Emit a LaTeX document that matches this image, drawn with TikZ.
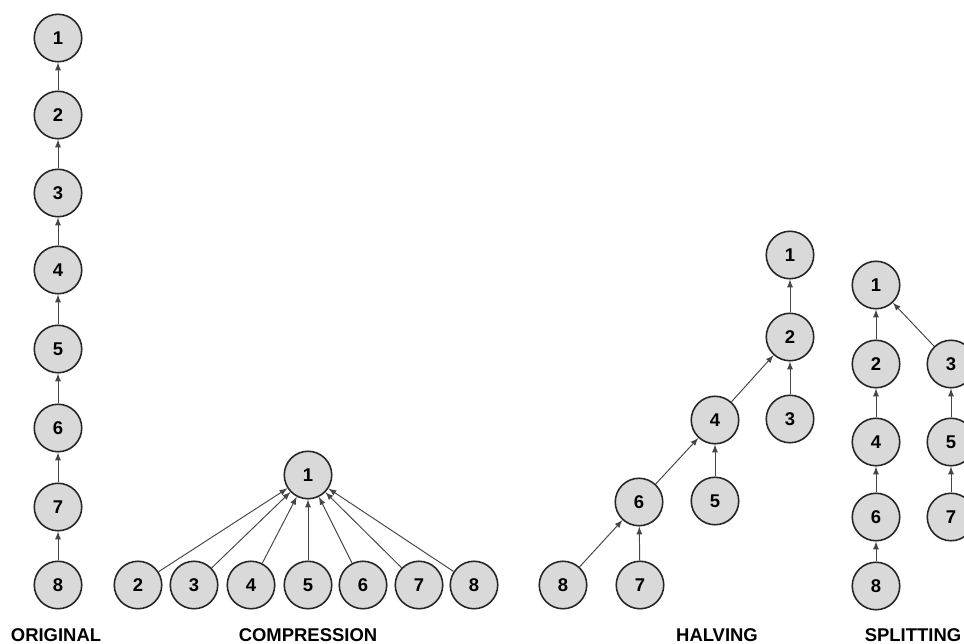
\documentclass[tikz,border=0pt]{standalone}
\usepackage{fontspec}
\setmainfont{Liberation Sans}
\usepackage{tikz}
\usetikzlibrary{arrows}
\tikzset{>=latex}
\definecolor{nodegray}{RGB}{217, 217, 217}
\definecolor{edgegray}{RGB}{70, 70, 70}
\tikzset{
  vert/.style={circle, draw=black!85, line width=0.9pt, fill=nodegray, minimum size=0.95cm, inner sep=0pt, font=\fontsize{10.5}{12}\selectfont\bfseries},
  link/.style={->, draw=edgegray, line width=0.55pt},
  caption/.style={font=\fontsize{10.5}{12}\selectfont\bfseries}
}

\begin{document}
\begin{tikzpicture}[x=0.02cm, y=-0.02cm]
\useasboundingbox (0, 0) rectangle (964, 643);

% original
\node[vert] (o1) at (58, 38) {1};
\node[vert] (o2) at (58, 115) {2};
\node[vert] (o3) at (58, 193) {3};
\node[vert] (o4) at (58, 270) {4};
\node[vert] (o5) at (58, 349) {5};
\node[vert] (o6) at (58, 428) {6};
\node[vert] (o7) at (58, 507) {7};
\node[vert] (o8) at (58, 585) {8};
\draw[link] (o2) -- (o1);
\draw[link] (o3) -- (o2);
\draw[link] (o4) -- (o3);
\draw[link] (o5) -- (o4);
\draw[link] (o6) -- (o5);
\draw[link] (o7) -- (o6);
\draw[link] (o8) -- (o7);

% compression
\node[vert] (c1) at (308, 475) {1};
\node[vert] (c2) at (138, 585) {2};
\node[vert] (c3) at (194, 585) {3};
\node[vert] (c4) at (251, 585) {4};
\node[vert] (c5) at (308, 585) {5};
\node[vert] (c6) at (363, 585) {6};
\node[vert] (c7) at (419, 585) {7};
\node[vert] (c8) at (474, 585) {8};
\draw[link] (c2) -- (c1);
\draw[link] (c3) -- (c1);
\draw[link] (c4) -- (c1);
\draw[link] (c5) -- (c1);
\draw[link] (c6) -- (c1);
\draw[link] (c7) -- (c1);
\draw[link] (c8) -- (c1);

% halving
\node[vert] (h1) at (790, 255) {1};
\node[vert] (h2) at (790, 337) {2};
\node[vert] (h3) at (790, 419) {3};
\node[vert] (h4) at (715, 420) {4};
\node[vert] (h5) at (715, 501) {5};
\node[vert] (h6) at (639, 502) {6};
\node[vert] (h7) at (640, 585) {7};
\node[vert] (h8) at (563, 585) {8};
\draw[link] (h2) -- (h1);
\draw[link] (h3) -- (h2);
\draw[link] (h4) -- (h2);
\draw[link] (h5) -- (h4);
\draw[link] (h6) -- (h4);
\draw[link] (h7) -- (h6);
\draw[link] (h8) -- (h6);

% splitting
\node[vert] (s1) at (876, 285) {1};
\node[vert] (s2) at (876, 364) {2};
\node[vert] (s3) at (951, 364) {3};
\node[vert] (s4) at (876, 442) {4};
\node[vert] (s5) at (951, 442) {5};
\node[vert] (s6) at (876, 517) {6};
\node[vert] (s7) at (951, 517) {7};
\node[vert] (s8) at (876, 586) {8};
\draw[link] (s2) -- (s1);
\draw[link] (s3) -- (s1);
\draw[link] (s4) -- (s2);
\draw[link] (s5) -- (s3);
\draw[link] (s6) -- (s4);
\draw[link] (s7) -- (s5);
\draw[link] (s8) -- (s6);

\node[caption] (lo) at (56, 635) {ORIGINAL};
\node[caption] (lc) at (308, 635) {COMPRESSION};
\node[caption] (lh) at (717, 635) {HALVING};
\node[caption] (ls) at (913, 635) {SPLITTING};

\end{tikzpicture}
\end{document}
